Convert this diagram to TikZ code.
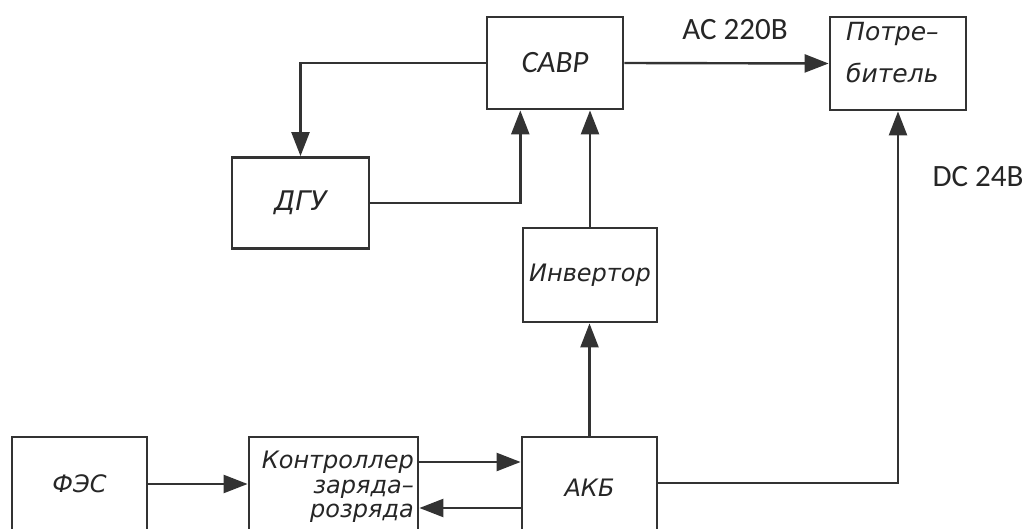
\documentclass[tikz,border=0pt]{standalone}
\usepackage{fontspec}
\setmainfont{DejaVu Sans}
\newfontfamily\lblfont{Carlito}
\usetikzlibrary{arrows.meta,calc}
\begin{document}
\begin{tikzpicture}[x=1pt,y=-1pt,
  box/.style={draw=black!80, line width=2.8pt, fill=white, inner sep=2pt},
  gost/.style={font=\fontsize{24}{26}\selectfont\itshape, text=black!85},
  conn/.style={draw=black!80, line width=2.4pt},
  arr/.style={conn, -{Triangle[length=24pt,width=18pt]}},
  lbl/.style={font=\lblfont\fontsize{31}{34}\selectfont, text=black!85}]
\useasboundingbox (0,0) rectangle (1027,529);
\clip (0,0) rectangle (1027,529);
% boxes
\node[box, minimum width=136pt, minimum height=92pt, text=black!85, font=\lblfont\itshape\fontsize{31}{34}\selectfont] (savr) at (555,63) {САВР};
\node[box, minimum width=136pt, minimum height=93pt] (potr) at (898,63.5) {};
\node[box, minimum width=137pt, minimum height=91pt, gost, font=\fontsize{27}{30}\selectfont\itshape] (dgu) at (300.5,203) {ДГУ};
\node[box, minimum width=134pt, minimum height=94pt, gost] (inv) at (590,275) {Инвертор};
\node[box, minimum width=135pt, minimum height=104pt] (fes) at (79.5,489) {};
\node[box, minimum width=169pt, minimum height=104pt] (ctrl) at (333.5,489) {};
\node[box, minimum width=135pt, minimum height=104pt] (akb) at (589.5,489) {};
% texts of the boxes
\node[gost, font=\fontsize{25}{42}\selectfont\itshape, align=left, anchor=north west, inner sep=0pt] (potrt) at (846,22) {Потре–\\ битель};
\node[gost, anchor=center] (fest) at (79.5,484) {ФЭС};
\node[gost, anchor=center] (akbt) at (589.5,488) {АКБ};
\node[gost, font=\fontsize{24}{24.5}\selectfont\itshape, align=right, anchor=north east, inner sep=0pt] (ctrlt) at (414,451) {Контроллер\\ заряда–\\ розряда};
% labels
\node[lbl] (ac) at (735,30) {AC 220В};
\node[lbl] (dc) at (978,177) {DC 24В};
% connectors
\draw[arr] (savr.west) -| (dgu.north);
\coordinate (s1) at ($(savr.south west)!0.25!(savr.south east)$);
\draw[arr] (dgu.east) -| (s1);
\draw[arr] (inv.north) -- (inv.north |- savr.south);
\draw[arr] (akb.north) -- (akb.north |- inv.south);
\draw[arr] (savr.east) -- (potr.west);
\coordinate (ae) at ($(akb.east)+(0,-6)$);
\draw[arr] (ae) -| (potr.south);
\draw[arr] ($(fes.east)+(0,-5)$) -- ($(ctrl.west)+(0,-5)$);
\draw[arr] ($(ctrl.east)+(0,-27)$) -- ($(akb.west)+(0,-27)$);
\draw[arr] ($(akb.west)+(0,19)$) -- ($(ctrl.east)+(0,19)$);
\end{tikzpicture}
\end{document}
